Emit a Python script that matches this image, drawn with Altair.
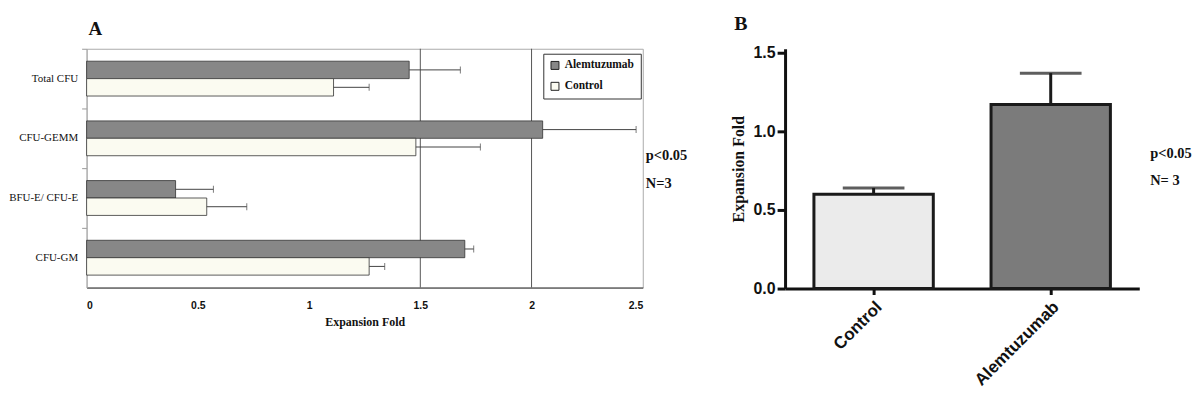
import altair as alt
import pandas as pd

# ---------------- Panel A data ----------------
categories = ["Total CFU", "CFU-GEMM", "BFU-E/ CFU-E", "CFU-GM"]
groups_a = ["Alemtuzumab", "Control"]
alem_mean = [1.45, 2.05, 0.40, 1.70]
alem_err = [0.23, 0.42, 0.17, 0.04]
ctrl_mean = [1.11, 1.48, 0.54, 1.27]
ctrl_err = [0.16, 0.29, 0.18, 0.07]
x_ticks_a = [0, 0.5, 1, 1.5, 2, 2.5]
grid_a = [1.5, 2.0]

# ---------------- Panel B data ----------------
groups_b = ["Control", "Alemtuzumab"]
mean_b = [0.60, 1.17]
err_b = [0.04, 0.20]
y_ticks_b = [0, 0.5, 1.0, 1.5]

rows = []
for c, m, e in zip(categories, alem_mean, alem_err):
    rows.append({"Category": c, "Group": "Alemtuzumab", "Fold": m, "Upper": m + e})
for c, m, e in zip(categories, ctrl_mean, ctrl_err):
    rows.append({"Category": c, "Group": "Control", "Fold": m, "Upper": m + e})
df_a = pd.DataFrame(rows)
df_grid = pd.DataFrame({"g": grid_a})
df_b = pd.DataFrame({"Treatment": groups_b, "FoldB": mean_b,
                     "UpperB": [m + e for m, e in zip(mean_b, err_b)]})

SERIF = "Liberation Serif"
SANS = "Liberation Sans"
one = alt.Data(values=[{}])

W_A, H_A = 559, 240
W_B, H_B = 356, 241

x_a = alt.X("Fold:Q", scale=alt.Scale(domain=[0, 2.5], nice=False),
            axis=alt.Axis(values=x_ticks_a, format="~g", grid=False, ticks=False,
                          domainColor="#333333", labelFont=SANS, labelFontWeight="bold",
                          labelFontSize=10.5, labelColor="#111111", labelPadding=13,
                          title="Expansion Fold", titleFont=SERIF, titleFontSize=12,
                          titleFontWeight="bold", titleColor="#111111", titlePadding=6))
y_a = alt.Y("Category:N", sort=categories, scale=alt.Scale(paddingInner=0, paddingOuter=0),
            axis=alt.Axis(title=None, bandPosition=0, tickSize=5, tickColor="#999999",
                          domainColor="#aaaaaa", labelFont=SERIF, labelFontSize=11,
                          labelColor="#111111", labelPadding=4))
yoff_a = alt.YOffset("Group:N", sort=groups_a, scale=alt.Scale(paddingInner=0, paddingOuter=0.714))

grid = alt.Chart(df_grid).mark_rule(color="#555555", strokeWidth=1).encode(
    x=alt.X("g:Q", scale=alt.Scale(domain=[0, 2.5], nice=False)))

bars_a = alt.Chart(df_a).mark_bar(stroke="#333333", strokeWidth=0.8).encode(
    x=x_a, y=y_a, yOffset=yoff_a,
    fill=alt.Fill("Group:N", sort=groups_a,
                  scale=alt.Scale(domain=groups_a, range=["#878787", "#fbfbf1"]),
                  legend=alt.Legend(title=None, orient="none", legendX=459, legendY=5,
                                    fillColor="white", strokeColor="#333333", padding=6,
                                    symbolType="square", symbolSize=64,
                                    symbolStrokeColor="#222222", symbolStrokeWidth=1,
                                    labelFont=SERIF, labelFontWeight="bold",
                                    labelFontSize=11.5, labelColor="#111111",
                                    rowPadding=8, labelOffset=4)))

err_a = alt.Chart(df_a).mark_rule(color="#444444", strokeWidth=1).encode(
    x="Fold:Q", x2="Upper:Q", y=alt.Y("Category:N", sort=categories), yOffset=yoff_a)
cap_a = alt.Chart(df_a).mark_tick(color="#444444", thickness=1, size=7).encode(
    x="Upper:Q", y=alt.Y("Category:N", sort=categories), yOffset=yoff_a)

def label(txt, x, y, size, font=SERIF, baseline="middle"):
    return alt.Chart(one).mark_text(text=txt, font=font, fontSize=size, fontWeight="bold",
                                    color="#111111", align="left", baseline=baseline).encode(
        x=alt.value(x), y=alt.value(y))

panel_a = alt.layer(
    grid, bars_a, err_a, cap_a,
    label("A", 2, -14, 19, baseline="alphabetic"),
    label("p<0.05", 562, 108, 14.5),
    label("N=3", 562, 136, 14.5),
).properties(width=W_A, height=H_A, view=alt.ViewBackground(stroke="#aaaaaa", strokeWidth=1))

# ---------------- Panel B ----------------
x_b = alt.X("Treatment:N", sort=groups_b,
            scale=alt.Scale(paddingInner=0.326, paddingOuter=0.163),
            axis=alt.Axis(title=None, labelAngle=-45, labelFont=SANS, labelFontWeight="bold",
                          labelFontSize=17, labelColor="#111111", labelPadding=4,
                          tickSize=6, tickWidth=3, tickColor="#111111",
                          domainWidth=3, domainColor="#111111"))
y_b = alt.Y("FoldB:Q", scale=alt.Scale(domain=[0, 1.525], nice=False),
            axis=alt.Axis(values=y_ticks_b, format=".1f", grid=False,
                          labelFont=SANS, labelFontWeight="bold", labelFontSize=16,
                          labelColor="#111111", labelPadding=2, tickSize=8, tickWidth=3,
                          tickColor="#111111", domainWidth=3, domainColor="#111111",
                          title="Expansion Fold", titleFont=SERIF, titleFontSize=16,
                          titleFontWeight="bold", titleColor="#111111", titlePadding=7))

bars_b = alt.Chart(df_b).mark_bar(stroke="#1a1a1a", strokeWidth=3).encode(
    x=x_b, y=y_b,
    fill=alt.Fill("Treatment:N", sort=groups_b,
                  scale=alt.Scale(domain=groups_b, range=["#ebebeb", "#7b7b7b"]),
                  legend=None))
err_b_rule = alt.Chart(df_b).mark_rule(color="#1a1a1a", strokeWidth=3).encode(
    x=alt.X("Treatment:N", sort=groups_b), y="FoldB:Q", y2="UpperB:Q")
cap_b = alt.Chart(df_b).mark_tick(color="#1a1a1a", thickness=3, size=62, orient="horizontal").encode(
    x=alt.X("Treatment:N", sort=groups_b), y="UpperB:Q")

panel_b = alt.layer(
    bars_b, err_b_rule, cap_b,
    label("B", -51, -19, 20, baseline="alphabetic"),
    label("p<0.05", 367, 106, 14.5),
    label("N= 3", 367, 133, 14.5),
).properties(width=W_B, height=H_B, view=alt.ViewBackground(stroke=None))

chart = alt.hconcat(panel_a, panel_b, spacing=41).resolve_scale(
    x="independent", y="independent", fill="independent"
).properties(padding={"left": 0, "top": 5, "right": 0, "bottom": 0}).configure(
    background="white"
)

chart.save("out.html", embed_options={"renderer": "svg", "actions": False})
